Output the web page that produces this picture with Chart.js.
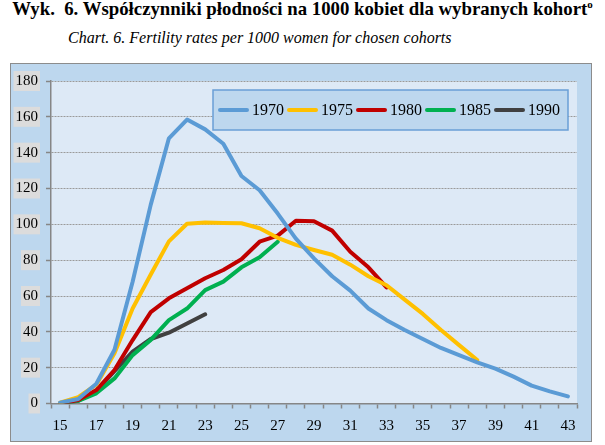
<!DOCTYPE html>
<html>
<head>
<meta charset="utf-8">
<script src="https://cdn.jsdelivr.net/npm/chart.js@4.4.1/dist/chart.umd.min.js"></script>
<style>
  body { margin: 0; background: #fff; width: 605px; height: 445px; overflow: hidden; font-family: 'Liberation Serif', 'Times New Roman', serif; }
  .title { position: absolute; left: 0; top: -2px; width: 605px; text-align: center; font-weight: bold; font-size: 18.8px; color: #000; white-space: nowrap; }
  .title sup { font-size: 11px; }
  .subtitle { position: absolute; left: 68px; top: 29px; font-style: italic; font-size: 16px; color: #000; white-space: nowrap; }
  .frame { position: absolute; left: 10px; top: 63px; width: 582px; height: 379px; box-sizing: border-box; border: 1px solid #8c8c8c; background: #bdd7ee; }
  .frame canvas { display: block; }
</style>
</head>
<body>
<div class="title">Wyk.&nbsp; 6. Współczynniki płodności na 1000 kobiet dla wybranych kohort<sup>o</sup></div>
<div class="subtitle">Chart. 6. Fertility rates per 1000 women for chosen cohorts</div>
<div class="frame"><canvas id="myChart" width="580" height="377"></canvas></div>
<script>
// ages 15..43
const ages = [15,16,17,18,19,20,21,22,23,24,25,26,27,28,29,30,31,32,33,34,35,36,37,38,39,40,41,42,43];

const cohortNames = ['1970', '1975', '1980', '1985', '1990'];

const rates1970 = [0.5,2.5,11,30,68,111,148,158.5,153,145,127,119,106,92,81,71,63,53,46.5,41,36,31,27,23,19.5,15,10,6.8,4];
const rates1975 = [0.5,3.5,10.5,28,53,72,90.5,100.3,101,100.8,100.6,97.8,92.5,88.5,85.7,83,77.5,71,66,58,50,41,32.6,24.3];
const rates1980 = [0,2,7.5,18.7,35.4,51,58.7,64.3,69.9,74.5,80.5,90.3,93.7,102,101.7,96.5,84.7,76,64.8];
const rates1985 = [0,1.5,5.7,14,27,35.5,46.5,53,63.3,68,76,81.6,90.3];
const rates1990 = [0,1.5,7,18,29,36,39.5,44.7,49.8];

const lineColors = ['#5b9bd5', '#ffc000', '#c00000', '#00b050', '#404040'];

const yMin = 0, yMax = 180, yStep = 20;

const serif = "'Liberation Serif', 'Times New Roman', serif";

document.addEventListener('DOMContentLoaded', () => {
    const ctx = document.getElementById('myChart').getContext('2d');

    // light plot background inside the axes
    const plotBg = {
        id: 'plotBg',
        beforeDraw(chart) {
            const a = chart.chartArea;
            const c = chart.ctx;
            c.save();
            c.fillStyle = '#dde9f6';
            c.fillRect(a.left, a.top, a.right - a.left, a.bottom - a.top);
            c.restore();
        }
    };

    // boxed legend floating inside the plot, top right
    const boxLegend = {
        id: 'boxLegend',
        afterDraw(chart) {
            const a = chart.chartArea;
            const c = chart.ctx;
            const sets = chart.data.datasets;
            c.save();
            c.font = '16px ' + serif;
            const lineLen = 31, gap = 3, padX = 5;
            let w = padX * 2;
            sets.forEach(ds => { w += lineLen + gap + c.measureText(ds.label).width + gap; });
            const h = 40;
            const x0 = a.right - 9 - w;
            const y0 = a.top + 9;
            c.fillStyle = '#bdd7ee';
            c.fillRect(x0, y0, w, h);
            c.strokeStyle = '#6a9fd6';
            c.lineWidth = 1.5;
            c.strokeRect(x0, y0, w, h);
            let x = x0 + padX;
            const cy = y0 + h / 2;
            c.textBaseline = 'middle';
            c.lineCap = 'round';
            sets.forEach(ds => {
                c.strokeStyle = ds.borderColor;
                c.lineWidth = 4;
                c.beginPath();
                c.moveTo(x + 2, cy);
                c.lineTo(x + lineLen - 2, cy);
                c.stroke();
                x += lineLen + gap;
                c.fillStyle = '#000';
                c.fillText(ds.label, x, cy + 1);
                x += c.measureText(ds.label).width + gap;
            });
            c.restore();
        }
    };

    const series = [rates1970, rates1975, rates1980, rates1985, rates1990];

    new Chart(ctx, {
        type: 'line',
        data: {
            labels: ages.map(String),
            datasets: series.map((vals, i) => ({
                label: cohortNames[i],
                data: vals,
                borderColor: lineColors[i],
                backgroundColor: lineColors[i],
                borderWidth: 4,
                pointRadius: 0,
                tension: 0,
                borderJoinStyle: 'round',
                borderCapStyle: 'round',
                fill: false
            }))
        },
        options: {
            responsive: false,
            animation: false,
            layout: { padding: { left: 0, right: 14, top: 17, bottom: 0 } },
            plugins: {
                legend: { display: false },
                tooltip: { enabled: false }
            },
            scales: {
                x: {
                    type: 'category',
                    offset: true,
                    afterFit(s) { s.height = 37.5; },
                    grid: {
                        offset: true,
                        drawOnChartArea: false,
                        drawTicks: true,
                        tickLength: 5,
                        tickColor: '#868686',
                        tickWidth: 1.5
                    },
                    border: { color: '#868686', width: 1.5 },
                    ticks: {
                        autoSkip: false,
                        maxRotation: 0,
                        padding: 9,
                        color: '#000',
                        font: { family: serif, size: 15 },
                        callback: (v, i) => (ages[i] % 2 === 1 ? String(ages[i]) : '')
                    }
                },
                y: {
                    min: yMin,
                    max: yMax,
                    afterFit(s) { s.width = 40; },
                    grid: {
                        color: '#9a9a9a',
                        lineWidth: 1,
                        drawTicks: true,
                        tickLength: 5,
                        tickColor: '#868686',
                        tickWidth: 1.5
                    },
                    border: { color: '#868686', width: 1.5, dash: [2, 1] },
                    ticks: {
                        stepSize: yStep,
                        padding: 8,
                        color: '#000',
                        font: { family: serif, size: 15 },
                        showLabelBackdrop: true,
                        backdropColor: '#dcdcdc',
                        backdropPadding: { x: 2, y: 1 }
                    }
                }
            }
        },
        plugins: [plotBg, boxLegend]
    });
});
</script>
</body>
</html>
